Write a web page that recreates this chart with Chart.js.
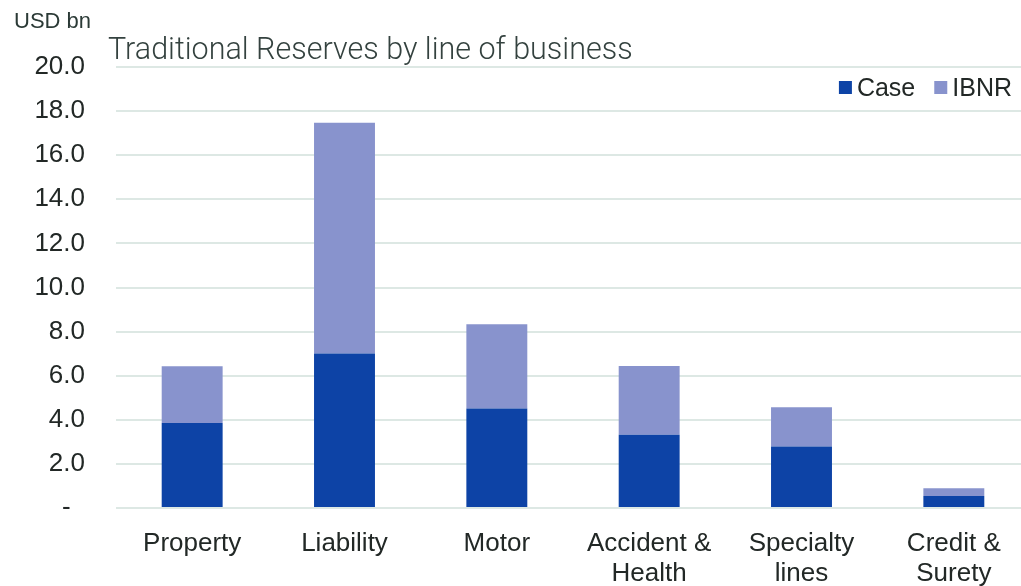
<!DOCTYPE html>
<html>
<head>
<meta charset="utf-8">
<title>Traditional Reserves by line of business</title>
<script src="https://cdn.jsdelivr.net/npm/chart.js@4.4.1/dist/chart.umd.min.js"></script>
<style>
    html, body { margin: 0; padding: 0; background: #fff; overflow: hidden; }
    #wrap { width: 1021px; height: 586px; position: relative; overflow: hidden; }
</style>
</head>
<body>
<!-- plot runs a few pixels past the right edge so the last gridlines bleed off -->
<div id="wrap"><canvas id="reservesChart" width="1030" height="586"></canvas></div>
<script>
const categories = ['Property', 'Liability', 'Motor', ['Accident &', 'Health'], ['Specialty', 'lines'], ['Credit &', 'Surety']];
const caseValues = [3.85, 7.01, 4.51, 3.32, 2.79, 0.54];
const ibnrValues = [2.58, 10.46, 3.82, 3.12, 1.78, 0.36];
const yTicks = [0, 2, 4, 6, 8, 10, 12, 14, 16, 18, 20];

const FONT = "'Liberation Sans', Arial, sans-serif";
const TEXT = '#222826';

// title, unit label and legend sit on top of the plot
const overlayText = {
    id: 'overlayText',
    afterDraw(chart) {
        const c = chart.ctx;
        c.save();
        c.fillStyle = '#2b3a36';
        c.textBaseline = 'alphabetic';
        c.textAlign = 'left';
        c.font = `22px ${FONT}`;
        c.fillText('USD bn', 14, 28);

        c.fillStyle = '#34423f';
        c.font = `300 30.5px Roboto, ${FONT}`;
        c.fillText('Traditional Reserves by line of business', 108, 59);

        // legend, right aligned against the visible edge
        c.font = `25px ${FONT}`;
        c.textBaseline = 'middle';
        let x = 1012;
        const y = 88;
        const items = chart.data.datasets.slice().reverse();
        items.forEach(ds => {
            const w = c.measureText(ds.label).width;
            x -= w;
            c.fillStyle = TEXT;
            c.fillText(ds.label, x, y + 1);
            x -= 18;
            c.fillStyle = ds.backgroundColor;
            c.fillRect(x, y - 7, 13, 13);
            x -= 19;
        });
        c.restore();
    }
};

new Chart(document.getElementById('reservesChart'), {
    type: 'bar',
    data: {
        labels: categories,
        datasets: [
            {
                label: 'Case',
                data: caseValues,
                backgroundColor: '#0d43a6',
                categoryPercentage: 1,
                barPercentage: 0.4
            },
            {
                label: 'IBNR',
                data: ibnrValues,
                backgroundColor: '#8893cd',
                categoryPercentage: 1,
                barPercentage: 0.4
            }
        ]
    },
    options: {
        responsive: false,
        animation: false,
        devicePixelRatio: 1,
        layout: { padding: { top: 67, right: 0, left: 0, bottom: 0 } },
        plugins: {
            legend: { display: false },
            title: { display: false },
            tooltip: { enabled: false }
        },
        scales: {
            x: {
                stacked: true,
                grid: { display: false },
                border: { display: false },
                ticks: {
                    color: TEXT,
                    font: { family: FONT, size: 26, lineHeight: 1.15 },
                    padding: 13,
                    maxRotation: 0,
                    autoSkip: false
                },
                afterFit(scale) { scale.height = 78; }
            },
            y: {
                stacked: true,
                min: 0,
                max: 20,
                afterBuildTicks(scale) {
                    scale.ticks = yTicks.map(v => ({ value: v }));
                },
                grid: { color: '#dde8e4', lineWidth: 2, drawTicks: false },
                border: { display: false },
                ticks: {
                    color: TEXT,
                    font: { family: FONT, size: 26 },
                    padding: 31,
                    callback: v => v === 0 ? '-  ' : v.toFixed(1)
                },
                afterFit(scale) { scale.width = 116; }
            }
        }
    },
    plugins: [overlayText]
});
</script>
</body>
</html>
